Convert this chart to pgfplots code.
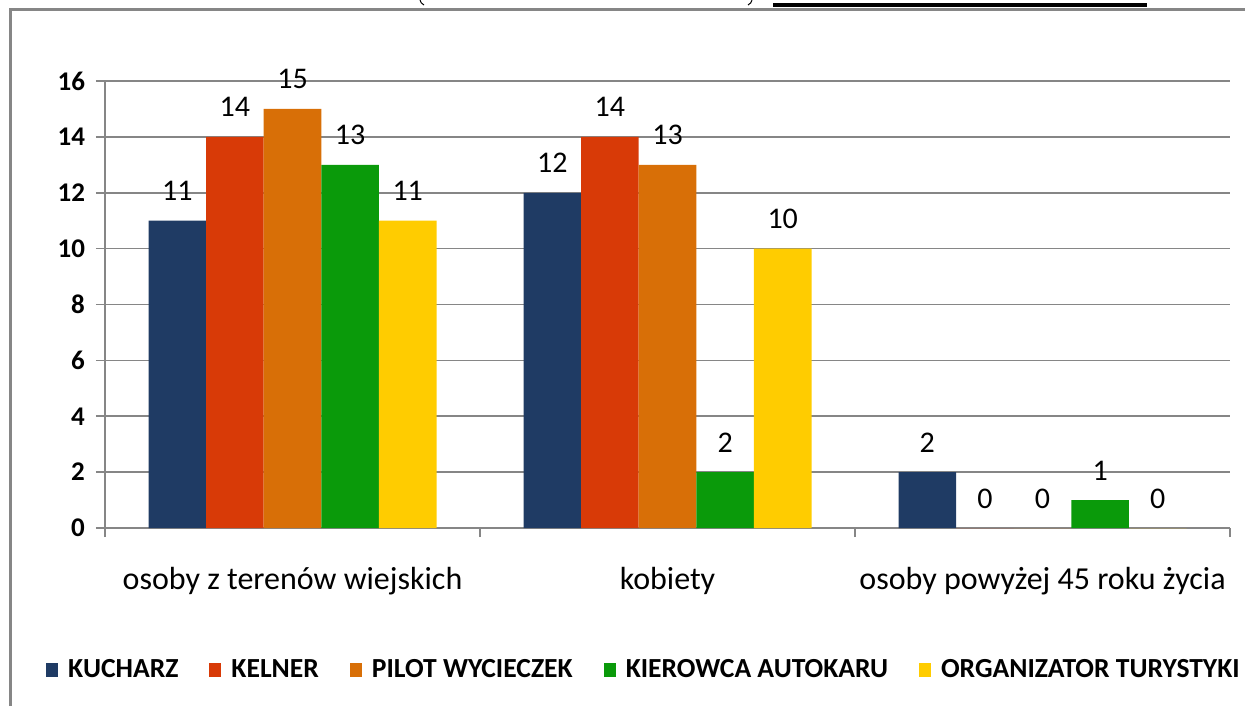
\documentclass[border=0pt]{standalone}
\usepackage{fontspec}
\setmainfont{Carlito}
\usepackage{pgfplots}
\pgfplotsset{compat=1.18}

\definecolor{kucharz}{HTML}{1F3B64}
\definecolor{kelner}{HTML}{D83A07}
\definecolor{pilot}{HTML}{D86F07}
\definecolor{kierowca}{HTML}{0A9A0A}
\definecolor{organizator}{HTML}{FFCC00}
\definecolor{axgray}{HTML}{868686}

\begin{document}
\begin{tikzpicture}
\useasboundingbox (0,0) rectangle (622.5pt,-353pt);
% frame and the cut-off heading above it (1px = 0.5pt)
\begin{scope}[x=0.5pt,y=-0.5pt]
\draw[axgray, line width=1.5pt] (10.5,706) -- (10.5,10) -- (1250,10);
\fill[black] (773,3) rectangle (1147,7.5);
\draw[line width=0.5pt] (420,0) .. controls (421,3) .. (424,5);
\draw[line width=0.5pt] (752,0) .. controls (751,3) .. (748,5);
\end{scope}

\begin{axis}[
    at={(52.5pt,-264pt)}, anchor=south west,
    scale only axis,
    width=562.5pt, height=223.5pt,
    xmin=-0.5, xmax=2.5, ymin=0, ymax=16,
    ybar=0pt, bar width=28.8pt,
    axis x line=bottom, axis y line=left,
    axis line style={axgray, line width=0.8pt, -},
    ytick={0,2,...,16},
    ymajorgrids, grid style={axgray, line width=0.8pt},
    tick align=outside, major tick length=4.5pt,
    tick style={axgray, line width=0.8pt},
    yticklabel style={font=\fontsize{13.5}{16}\selectfont\bfseries, xshift=-2pt},
    /pgf/number format/assume math mode=true,
    xtick={-0.5,0.5,1.5,2.5}, xticklabels={},
    extra x ticks={0,1,2},
    extra x tick labels={osoby z terenów wiejskich, kobiety, osoby powyżej 45 roku życia},
    extra x tick style={major tick length=0pt,
        tick label style={font=\fontsize{16}{19}\selectfont, yshift=-16pt}},
    nodes near coords,
    every node near coord/.append style={font=\fontsize{15}{18}\selectfont,
        anchor=base, inner sep=0pt, yshift=10pt, color=black},
    legend columns=5,
    legend style={draw=none, at={(0.48,-0.318)}, anchor=center,
        font=\fontsize{13.8}{16}\selectfont\bfseries,
        /tikz/every odd column/.append style={column sep=3pt},
        /tikz/every even column/.append style={column sep=13.5pt}},
    legend image code/.code={\fill[#1] (0pt,-3.5pt) rectangle (6pt,3.5pt);},
]
\addplot[draw=none, fill=kucharz] coordinates {(0,11) (1,12) (2,2)};
\addplot[draw=none, fill=kelner] coordinates {(0,14) (1,14) (2,0)};
\addplot[draw=none, fill=pilot] coordinates {(0,15) (1,13) (2,0)};
\addplot[draw=none, fill=kierowca] coordinates {(0,13) (1,2) (2,1)};
\addplot[draw=none, fill=organizator] coordinates {(0,11) (1,10) (2,0)};
\legend{KUCHARZ, KELNER, PILOT WYCIECZEK, KIEROWCA AUTOKARU, ORGANIZATOR TURYSTYKI}
\end{axis}
\end{tikzpicture}
\end{document}
